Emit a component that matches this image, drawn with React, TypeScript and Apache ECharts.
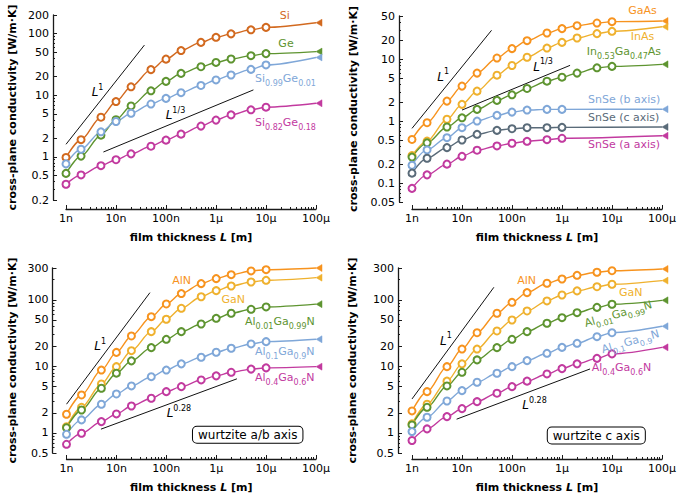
import React, { useEffect, useRef } from "react";
import * as echarts from "echarts";

// ---------- shared axis data ----------
const thicknessL = [1e-9, 2e-9, 5e-9, 1e-8, 2e-8, 5e-8, 1e-7, 2e-7, 5e-7, 1e-6, 2e-6, 5e-6, 1e-5];
const bulkL = 1e-4;
const xTickValues = [1e-9, 1e-8, 1e-7, 1e-6, 1e-5, 1e-4];
const xTickLabels = ["1n", "10n", "100n", "1μ", "10μ", "100μ"];

// ---------- panel A: Si / Ge ----------
const yTicksA = [0.2, 0.5, 1, 2, 5, 10, 20, 50, 100, 200];
const siK = [0.98, 1.9, 4.4, 7.9, 13.7, 26, 38.5, 53, 72, 87, 99, 115, 126];
const siBulk = 150;
const geK = [0.54, 1.03, 2.25, 4.0, 6.7, 11.8, 16.8, 22.6, 29, 34, 38.7, 43.8, 47.3];
const geBulk = 51;
const si99K = [0.77, 1.33, 2.55, 3.75, 5.1, 7.2, 8.9, 11, 14.4, 17.7, 21.3, 26.3, 31];
const si99Bulk = 41;
const si82K = [0.36, 0.51, 0.72, 0.9, 1.12, 1.49, 1.87, 2.34, 3.16, 3.95, 4.8, 5.8, 6.4];
const si82Bulk = 7.4;
const guideA1 = [[1e-9, 1.6], [3.7e-8, 65]];
const guideA2 = [[5.6e-9, 1.2], [5.6e-6, 12.2]];

// ---------- panel B: III-V / SnSe ----------
const yTicksB = [0.05, 0.1, 0.2, 0.5, 1, 2, 5, 10, 20, 50];
const gaAsK = [0.51, 0.95, 2.12, 3.7, 6.0, 10.5, 14.9, 20, 26.6, 31.3, 34.9, 38.5, 40.5];
const gaAsBulk = 41.5;
const inAsK = [0.28, 0.48, 1.08, 1.88, 3.07, 5.55, 7.95, 10.8, 15.2, 18.8, 22.1, 26, 28.3];
const inAsBulk = 33.5;
const inGaAsK = [0.265, 0.45, 0.81, 1.14, 1.56, 2.18, 2.68, 3.39, 4.44, 5.15, 6.0, 7.3, 7.7];
const inGaAsBulk = 8.3;
const snSeBK = [0.196, 0.346, 0.545, 0.79, 1.01, 1.25, 1.41, 1.52, 1.56, 1.56];
const snSeBBulk = 1.57;
const snSeCK = [0.146, 0.254, 0.377, 0.5, 0.618, 0.716, 0.76, 0.79, 0.79, 0.8];
const snSeCBulk = 0.81;
const snSeAK = [0.083, 0.137, 0.204, 0.273, 0.342, 0.401, 0.443, 0.476, 0.506, 0.533];
const snSeABulk = 0.585;
const guideB1 = [[1e-9, 0.77], [3.9e-8, 29.4]];
const guideB2 = [[1e-8, 1.52], [1.45e-6, 8.0]];

// ---------- panel C: nitrides, wurtzite a/b axis ----------
const yTicksC = [0.5, 1, 2, 5, 10, 20, 50, 100, 300];
const alnAB = [1.91, 3.72, 8.8, 16.2, 28.6, 55.7, 86.5, 124, 175, 208, 238, 271, 283];
const alnABBulk = 300;
const ganAB = [1.24, 2.43, 5.44, 9.9, 17.2, 33.2, 51, 74.5, 111, 137, 161, 185, 196];
const ganABBulk = 215;
const al01AB = [1.2, 2.21, 4.69, 7.9, 12.1, 19.1, 25.5, 33.2, 43.3, 52.7, 62.7, 72, 78];
const al01ABBulk = 86;
const al1AB = [0.955, 1.57, 2.7, 3.85, 5.08, 7.0, 8.8, 10.9, 13.7, 16.3, 18.7, 21.7, 23.5];
const al1ABBulk = 25.5;
const al4AB = [0.676, 0.99, 1.48, 1.93, 2.54, 3.32, 4.17, 4.96, 6.25, 7.2, 8.15, 9.1, 9.5];
const al4ABBulk = 9.9;
const guideC1 = [[1e-9, 2.7], [4.7e-8, 128]];
const guideC2 = [[4.9e-9, 1.14], [2.6e-6, 6.5]];

// ---------- panel D: nitrides, wurtzite c axis ----------
const yTicksD = [0.5, 1, 2, 5, 10, 20, 50, 100, 300];
const alnC = [2.14, 4.17, 9.9, 18.2, 32, 62.7, 91.6, 128, 177, 205, 233, 259, 273];
const alnCBulk = 290;
const ganC = [1.37, 2.7, 6.0, 10.9, 18.2, 34, 49.7, 67.9, 96, 118, 136, 157, 171];
const ganCBulk = 194;
const al01C = [1.32, 2.43, 5.08, 8.15, 12.5, 19.1, 25.5, 33.2, 44.4, 53.8, 64, 77, 85.6];
const al01CBulk = 98;
const al1C = [1.05, 1.72, 3.02, 4.32, 5.77, 7.88, 9.9, 12.2, 15.7, 19.3, 22.2, 27.9, 32];
const al1CBulk = 40;
const al4C = [0.77, 1.15, 1.76, 2.32, 2.95, 3.95, 4.96, 6.0, 7.69, 9.25, 10.9, 13.2, 15.4];
const al4CBulk = 19.3;
const guideD1 = [[1e-9, 3.24], [4.34e-8, 154]];
const guideD2 = [[7.8e-9, 1.61], [3.64e-6, 9.14]];

// ---------- styling ----------
const FONT = "DejaVu Sans";
const COL = {
  siOrange: "#d2691f",
  orange: "#f7931e",
  yellow: "#efb12e",
  green: "#5e9430",
  blue: "#7fa7d8",
  magenta: "#c23a9f",
  slate: "#5a6b79",
};
const TRI = "path://M0,5L10,0L10,10Z";
const lg = Math.log10;

type Curve = { color: string; k: number[]; bulk: number };
type Panel = {
  grid: { left: number; top: number; width: number; height: number };
  xOffset: number;
  yOffset: number;
  yNameGap: number;
  yTicks: number[];
  curves: Curve[];
  guides: number[][][];
};

const panels: Panel[] = [
  {
    grid: { left: 66, top: 15, width: 250, height: 185 },
    xOffset: 9, yOffset: 13, yNameGap: 35,
    yTicks: yTicksA,
    curves: [
      { color: COL.siOrange, k: siK, bulk: siBulk },
      { color: COL.green, k: geK, bulk: geBulk },
      { color: COL.blue, k: si99K, bulk: si99Bulk },
      { color: COL.magenta, k: si82K, bulk: si82Bulk },
    ],
    guides: [guideA1, guideA2],
  },
  {
    grid: { left: 412, top: 16, width: 250, height: 186 },
    xOffset: 7, yOffset: 13, yNameGap: 40,
    yTicks: yTicksB,
    curves: [
      { color: COL.orange, k: gaAsK, bulk: gaAsBulk },
      { color: COL.yellow, k: inAsK, bulk: inAsBulk },
      { color: COL.green, k: inGaAsK, bulk: inGaAsBulk },
      { color: COL.blue, k: snSeBK, bulk: snSeBBulk },
      { color: COL.slate, k: snSeCK, bulk: snSeCBulk },
      { color: COL.magenta, k: snSeAK, bulk: snSeABulk },
    ],
    guides: [guideB1, guideB2],
  },
  {
    grid: { left: 66.5, top: 268, width: 249.5, height: 185 },
    xOffset: 6, yOffset: 14, yNameGap: 35,
    yTicks: yTicksC,
    curves: [
      { color: COL.orange, k: alnAB, bulk: alnABBulk },
      { color: COL.yellow, k: ganAB, bulk: ganABBulk },
      { color: COL.green, k: al01AB, bulk: al01ABBulk },
      { color: COL.blue, k: al1AB, bulk: al1ABBulk },
      { color: COL.magenta, k: al4AB, bulk: al4ABBulk },
    ],
    guides: [guideC1, guideC2],
  },
  {
    grid: { left: 412, top: 268, width: 250, height: 185 },
    xOffset: 6, yOffset: 14, yNameGap: 40,
    yTicks: yTicksD,
    curves: [
      { color: COL.orange, k: alnC, bulk: alnCBulk },
      { color: COL.yellow, k: ganC, bulk: ganCBulk },
      { color: COL.green, k: al01C, bulk: al01CBulk },
      { color: COL.blue, k: al1C, bulk: al1CBulk },
      { color: COL.magenta, k: al4C, bulk: al4CBulk },
    ],
    guides: [guideD1, guideD2],
  },
];

function minorLogTicks(lo: number, hi: number, majors: number[]) {
  const out: number[] = [];
  const a = Math.floor(lg(lo)) - 1;
  const b = Math.ceil(lg(hi)) + 1;
  for (let d = a; d <= b; d++) {
    for (let m = 1; m <= 9; m++) {
      const v = lg(m) + d;
      if (v < lg(lo) - 1e-9 || v > lg(hi) + 1e-9) continue;
      if (majors.some((t) => Math.abs(lg(t) - v) < 1e-6)) continue;
      out.push(v);
    }
  }
  return out;
}

const richLbl = {
  m: { fontSize: 11, fontFamily: FONT, lineHeight: 18, verticalAlign: "middle" },
  s: { fontSize: 8, fontFamily: FONT, lineHeight: 8, verticalAlign: "bottom" },
  i: { fontSize: 12, fontFamily: FONT, fontStyle: "italic", lineHeight: 18, verticalAlign: "middle" },
  p: { fontSize: 8, fontFamily: FONT, lineHeight: 8, verticalAlign: "top" },
};

function lbl(text: string, x: number, y: number, color: string, align = "left", rot = 0) {
  return {
    type: "text",
    x,
    y,
    rotation: (rot * Math.PI) / 180,
    silent: true,
    z: 10,
    style: { text, rich: richLbl, fill: color, align, verticalAlign: "middle", fontFamily: FONT, fontSize: 11 },
  };
}

function box(text: string, x: number, y: number) {
  return {
    type: "text",
    x,
    y,
    silent: true,
    z: 10,
    style: {
      text,
      fill: "#000",
      fontFamily: FONT,
      fontSize: 12,
      lineHeight: 14,
      align: "center",
      verticalAlign: "middle",
      backgroundColor: "#fff",
      borderColor: "#000",
      borderWidth: 1,
      borderRadius: 4,
      padding: [1, 5, 1, 5],
    },
  };
}

const graphics = [
  // panel A
  lbl("{m|Si}", 284.7, 15, COL.siOrange, "center"),
  lbl("{m|Ge}", 286, 43.3, COL.green, "center"),
  lbl("{m|Si}{s|0.99}{m|Ge}{s|0.01}", 255, 78, COL.blue),
  lbl("{m|Si}{s|0.82}{m|Ge}{s|0.18}", 255, 122, COL.magenta),
  lbl("{i|L}{p|1}", 91.7, 92, "#000"),
  lbl("{i|L}{p|1/3}", 165.7, 115, "#000"),
  // panel B
  lbl("{m|GaAs}", 642.5, 10, COL.orange, "center"),
  lbl("{m|InAs}", 642.5, 36.7, COL.yellow, "center"),
  lbl("{m|In}{s|0.53}{m|Ga}{s|0.47}{m|As}", 586.7, 51.7, COL.green),
  lbl("{m|SnSe (b axis)}", 588, 99.3, COL.blue),
  lbl("{m|SnSe (c axis)}", 588, 117.3, COL.slate),
  lbl("{m|SnSe (a axis)}", 588, 144.3, COL.magenta),
  lbl("{i|L}{p|1}", 437.3, 76.7, "#000"),
  lbl("{i|L}{p|1/3}", 533.3, 66.7, "#000"),
  // panel C
  lbl("{m|AlN}", 181.7, 280, COL.orange, "center"),
  lbl("{m|GaN}", 233.3, 299.3, COL.yellow, "center"),
  lbl("{m|Al}{s|0.01}{m|Ga}{s|0.99}{m|N}", 245, 321, COL.green),
  lbl("{m|Al}{s|0.1}{m|Ga}{s|0.9}{m|N}", 255, 351, COL.blue),
  lbl("{m|Al}{s|0.4}{m|Ga}{s|0.6}{m|N}", 255, 377.7, COL.magenta),
  lbl("{i|L}{p|1}", 94.3, 346, "#000"),
  lbl("{i|L}{p|0.28}", 166.7, 413.3, "#000"),
  box("wurtzite a/b axis", 247.7, 434.7),
  // panel D
  lbl("{m|AlN}", 526.7, 280, COL.orange, "center"),
  lbl("{m|GaN}", 630.8, 292.3, COL.yellow, "center"),
  lbl("{m|Al}{s|0.01}{m|Ga}{s|0.99}{m|N}", 618.3, 314, COL.green, "center", 16),
  lbl("{m|Al}{s|0.1}{m|Ga}{s|0.9}{m|N}", 630.3, 341.7, COL.blue, "center", 16),
  lbl("{m|Al}{s|0.4}{m|Ga}{s|0.6}{m|N}", 591.7, 367.3, COL.magenta),
  lbl("{i|L}{p|1}", 440, 340.7, "#000"),
  lbl("{i|L}{p|0.28}", 522.3, 405, "#000"),
  box("wurtzite c axis", 596.3, 435.5),
];

function buildOption() {
  const grid: any[] = [];
  const xAxis: any[] = [];
  const yAxis: any[] = [];
  const series: any[] = [];
  const xMajor = xTickValues.map(lg);
  const xMinor = minorLogTicks(xTickValues[0], xTickValues[xTickValues.length - 1], xTickValues);
  const axisColor = "#1a1a1a";

  panels.forEach((p, i) => {
    grid.push({ ...p.grid });
    const yMin = p.yTicks[0];
    const yMax = p.yTicks[p.yTicks.length - 1];
    const yMajor = p.yTicks.map(lg);
    const yMinor = minorLogTicks(yMin, yMax, p.yTicks);
    const common = { gridIndex: i, type: "value", splitLine: { show: false }, silent: true };

    xAxis.push({
      ...common,
      min: xMajor[0],
      max: xMajor[xMajor.length - 1],
      position: "bottom",
      offset: p.xOffset,
      axisLine: { show: true, onZero: false, lineStyle: { color: axisColor, width: 1.3 } },
      axisTick: { show: true, inside: true, length: 4, customValues: xMajor, lineStyle: { color: axisColor, width: 1 } },
      axisLabel: {
        show: true,
        customValues: xMajor,
        margin: 4,
        color: "#000",
        fontFamily: FONT,
        fontSize: 11,
        formatter: (v: number) => {
          const idx = xMajor.findIndex((t) => Math.abs(t - v) < 1e-6);
          return idx >= 0 ? xTickLabels[idx] : "";
        },
      },
      name: "{b|film thickness }{bi|L}{b| [m]}",
      nameLocation: "middle",
      nameGap: 23,
      nameTextStyle: {
        color: "#000",
        rich: {
          b: { fontFamily: FONT, fontWeight: "bold", fontSize: 11, color: "#000" },
          bi: { fontFamily: FONT, fontWeight: "bold", fontStyle: "italic", fontSize: 11, color: "#000" },
        },
      },
    });
    xAxis.push({
      ...common,
      min: xMajor[0],
      max: xMajor[xMajor.length - 1],
      position: "bottom",
      offset: p.xOffset,
      axisLine: { show: false, onZero: false },
      axisTick: { show: true, inside: true, length: 2, customValues: xMinor, lineStyle: { color: axisColor, width: 1 } },
      axisLabel: { show: false },
    });
    yAxis.push({
      ...common,
      min: lg(yMin),
      max: lg(yMax),
      position: "left",
      offset: p.yOffset,
      axisLine: { show: true, onZero: false, lineStyle: { color: axisColor, width: 1.3 } },
      axisTick: { show: true, inside: true, length: 4, customValues: yMajor, lineStyle: { color: axisColor, width: 1 } },
      axisLabel: {
        show: true,
        customValues: yMajor,
        margin: 4,
        color: "#000",
        fontFamily: FONT,
        fontSize: 11,
        formatter: (v: number) => {
          const idx = yMajor.findIndex((t) => Math.abs(t - v) < 1e-6);
          return idx >= 0 ? String(p.yTicks[idx]) : "";
        },
      },
      name: "cross-plane conductivity [W/m·K]",
      nameLocation: "middle",
      nameGap: p.yNameGap,
      nameTextStyle: { color: "#000", fontFamily: FONT, fontWeight: "bold", fontSize: 11 },
    });
    yAxis.push({
      ...common,
      min: lg(yMin),
      max: lg(yMax),
      position: "left",
      offset: p.yOffset,
      axisLine: { show: false, onZero: false },
      axisTick: { show: true, inside: true, length: 2, customValues: yMinor, lineStyle: { color: axisColor, width: 1 } },
      axisLabel: { show: false },
    });

    p.guides.forEach((g) => {
      series.push({
        type: "line",
        xAxisIndex: 2 * i,
        yAxisIndex: 2 * i,
        data: g.map((pt) => [lg(pt[0]), lg(pt[1])]),
        symbol: "none",
        silent: true,
        clip: false,
        lineStyle: { color: "#111", width: 1 },
        emphasis: { disabled: true },
        z: 2,
      });
    });

    p.curves.forEach((c) => {
      const data: any[] = c.k.map((v, j) => [lg(thicknessL[j]), lg(v)]);
      data.push({
        value: [lg(bulkL), lg(c.bulk)],
        symbol: TRI,
        symbolSize: [6, 7],
        symbolOffset: [3, 0],
        itemStyle: { color: c.color, borderColor: c.color, borderWidth: 0.5 },
      });
      series.push({
        type: "line",
        xAxisIndex: 2 * i,
        yAxisIndex: 2 * i,
        data,
        smooth: 0.3,
        smoothMonotone: "x",
        symbol: "emptyCircle",
        symbolSize: 7,
        showSymbol: true,
        showAllSymbol: true,
        silent: true,
        clip: false,
        lineStyle: { color: c.color, width: 1.4 },
        itemStyle: { color: c.color, borderColor: c.color, borderWidth: 1.3 },
        emphasis: { disabled: true },
        z: 3,
      });
    });
  });

  return {
    animation: false,
    backgroundColor: "#fff",
    grid,
    xAxis,
    yAxis,
    series,
    graphic: graphics,
  };
}

export default function App() {
  const ref = useRef<HTMLDivElement>(null);
  useEffect(() => {
    if (!ref.current) return;
    const chart = echarts.init(ref.current, undefined, { renderer: "svg" });
    chart.setOption(buildOption() as any);
    return () => chart.dispose();
  }, []);
  return (
    <div
      ref={ref}
      style={{ position: "fixed", left: 0, top: 0, width: 681, height: 503, background: "#fff" }}
    />
  );
}
